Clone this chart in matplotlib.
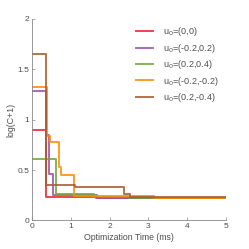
import numpy as np
import matplotlib.pyplot as plt

plt.rcParams['font.family'] = ['Liberation Sans', 'DejaVu Sans']

# step data: time (ms) where each level starts, and log(C+1) value
t_red = [0, 0.35, 1.65, 5]
v_red = [0.90, 0.235, 0.225, 0.225]

t_purple = [0, 0.34, 0.44, 0.54, 1.66, 5]
v_purple = [1.28, 0.85, 0.46, 0.255, 0.225, 0.225]

t_green = [0, 0.61, 1.6, 2.5, 5]
v_green = [0.61, 0.26, 0.235, 0.225, 0.225]

t_orange = [0, 0.37, 0.46, 0.69, 0.75, 1.07, 3.16, 5]
v_orange = [1.32, 0.84, 0.78, 0.53, 0.45, 0.245, 0.225, 0.225]

t_brown = [0, 0.36, 1.11, 2.37, 2.53, 5]
v_brown = [1.655, 0.35, 0.33, 0.26, 0.228, 0.228]

labels = ['u$_0$=(0,0)', 'u$_0$=(-0.2,0.2)', 'u$_0$=(0.2,0.4)',
          'u$_0$=(-0.2,-0.2)', 'u$_0$=(0.2,-0.4)']
colors = ['#e8262a', '#9b4fae', '#6fa63a', '#ff8c00', '#a65c30']

fig = plt.figure(figsize=(2.49, 2.49), dpi=100)
ax = fig.add_axes([0.13, 0.115, 0.776, 0.809])

series = [(t_red, v_red), (t_purple, v_purple), (t_green, v_green),
          (t_orange, v_orange), (t_brown, v_brown)]
for (t, v), c, lab in zip(series, colors, labels):
    ax.step(t, v, where='post', color=c, lw=1.4, alpha=0.85, label=lab)

ax.set_xlim(0, 5)
ax.set_ylim(0, 2)
ax.set_xticks([0, 1, 2, 3, 4, 5])
ax.set_yticks([0, 0.5, 1, 1.5, 2])
ax.set_yticklabels(['0', '0.5', '1', '1.5', '2'])
gray = '#4d4d4d'
for s in ['top', 'right']:
    ax.spines[s].set_visible(False)
for s in ['left', 'bottom']:
    ax.spines[s].set_color('#888888')
    ax.spines[s].set_linewidth(0.6)
ax.tick_params(direction='in', length=2, width=0.5, colors='#888888',
               labelcolor=gray, labelsize=6, pad=2)
ax.set_xlabel('Optimization Time (ms)', fontsize=6.3, color=gray, labelpad=2)
ax.set_ylabel('log(C+1)', fontsize=6.3, color=gray, labelpad=2)

ax.legend(loc='upper right', frameon=False, fontsize=6.5, handlelength=1.8,
          handletextpad=1.1, labelspacing=0.38, bbox_to_anchor=(0.99, 0.995),
          labelcolor=gray, borderaxespad=0.2)

fig.savefig('out.png', dpi=100)
